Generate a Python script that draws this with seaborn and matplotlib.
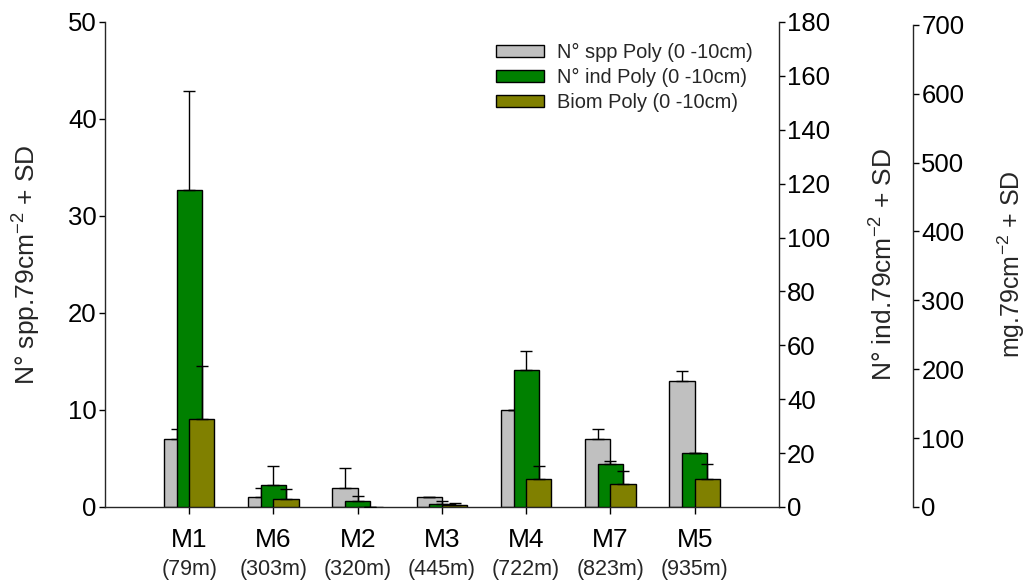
import matplotlib
matplotlib.use("Agg")
import matplotlib.pyplot as plt
from matplotlib.patches import Patch
import numpy as np
import pandas as pd
import seaborn as sns

# Stations ordered by depth
sites = ["M1", "M6", "M2", "M3", "M4", "M7", "M5"]
depths = ["(79m)", "(303m)", "(320m)", "(445m)", "(722m)", "(823m)", "(935m)"]

# Polychaeta, 0-10 cm layer (means and SD per 79 cm2 core)
spp_mean = [7, 1, 2, 1, 10, 7, 13]
spp_sd = [1, 1, 2, 0, 0, 1, 1]
ind_mean = [117.5, 8.2, 2.2, 1.2, 51, 16, 20]
ind_sd = [36.7, 6.9, 2.0, 1.0, 6.8, 1.0, 0]
biom_mean = [127, 12, 0.5, 3.6, 41, 34, 41]
biom_sd = [78, 14.5, 0, 2.4, 19, 18, 22]

series_labels = ["N° spp Poly (0 -10cm)", "N° ind Poly (0 -10cm)", "Biom Poly (0 -10cm)"]
colors = ["#C0C0C0", "#008000", "#808000"]

sns.set_theme(style="ticks")
plt.rcParams["font.family"] = ["Liberation Sans", "DejaVu Sans"]
plt.rcParams["mathtext.fontset"] = "custom"
plt.rcParams["mathtext.rm"] = "Liberation Sans"
plt.rcParams["mathtext.it"] = "Liberation Sans:italic"
plt.rcParams["axes.linewidth"] = 1.0

fig = plt.figure(figsize=(10.28, 5.81), dpi=100)
ax = fig.add_axes([0.1021, 0.1274, 0.6556, 0.8348])
ax2 = ax.twinx()
ax3 = ax.twinx()

pos = np.arange(1, len(sites) + 1)
offsets = [-0.15, 0.0, 0.15]
axes = [ax, ax2, ax3]
means = [spp_mean, ind_mean, biom_mean]
sds = [spp_sd, ind_sd, biom_sd]

for a, off, m, s, c in zip(axes, offsets, means, sds, colors):
    df = pd.DataFrame({"x": pos + off, "y": m})
    sns.barplot(data=df, x="x", y="y", native_scale=True, width=0.3,
                color=c, saturation=1, edgecolor="black", linewidth=1.0,
                errorbar=None, ax=a)
    a.errorbar(pos + off, m, yerr=[np.zeros(len(s)), s], fmt="none",
               ecolor="black", elinewidth=1.0, capsize=4.5, capthick=1.0)
    a.set_xlabel("")
    a.set_ylabel("")

# Axis ranges
ax.set_xlim(0, 8)
ax.set_ylim(0, 50)
ax2.set_ylim(0, 180)
ax3.set_ylim(0, 704)

ax.set_yticks(np.arange(0, 51, 10))
ax2.set_yticks(np.arange(0, 181, 20))
ax3.set_yticks(np.arange(0, 701, 100))

# Spines
for a in axes:
    a.spines["top"].set_visible(False)
ax.spines["right"].set_visible(False)
ax2.spines["left"].set_visible(False)
ax3.spines["left"].set_visible(False)
ax3.spines["bottom"].set_visible(False)
ax2.spines["bottom"].set_visible(False)
ax3.spines["right"].set_position(("axes", 1.199))
ax3.spines["right"].set_bounds(0, 700)

tick_fs = 18.5
ax.set_xticks(pos)
ax.set_xticklabels(sites, fontsize=19)
for a in axes:
    a.tick_params(axis="y", labelsize=tick_fs, length=4.5, width=1.0, direction="out",
                  colors="black", pad=1.5)
ax.tick_params(axis="x", length=5, width=1.0, direction="out", pad=10, colors="black")

for p, d in zip(pos, depths):
    ax.text(p, -0.128, d, transform=ax.get_xaxis_transform(), ha="center",
            va="center", fontsize=15.5)

lab_fs = 19
ax.set_ylabel(r"N° spp.79cm$^{-2}$ + SD", fontsize=lab_fs)
ax2.set_ylabel(r"N° ind.79cm$^{-2}$ + SD", fontsize=lab_fs)
ax3.set_ylabel(r"mg.79cm$^{-2}$ + SD", fontsize=18)
ax.yaxis.set_label_coords(-0.0925, 0.5)
ax2.yaxis.set_label_coords(1.136, 0.5)
ax3.yaxis.set_label_coords(1.322, 0.5)

handles = [Patch(facecolor=c, edgecolor="black", linewidth=1.0) for c in colors]
ax3.legend(handles, series_labels, loc="upper right", bbox_to_anchor=(0.979, 0.982),
           frameon=False, fontsize=14.4, handlelength=2.4, handleheight=0.55,
           handletextpad=0.65, labelspacing=0.3, borderaxespad=0.2)

fig.savefig("out.png", dpi=100)
